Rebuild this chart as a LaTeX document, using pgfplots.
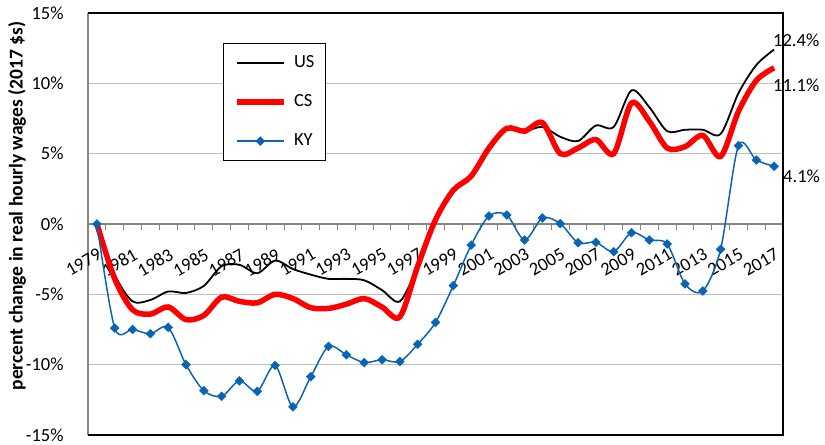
\documentclass[border=0pt]{standalone}
\usepackage{pgfplots}
\pgfplotsset{compat=1.18}
\usepackage{fontspec}
\setmainfont{Carlito}
\usetikzlibrary{calc}
\definecolor{kyblue}{RGB}{10,100,180}
\definecolor{gridgray}{RGB}{191,191,191}
\definecolor{axgray}{RGB}{134,134,134}
\newcommand{\fs}{\fontsize{18.5}{20}\selectfont}
\begin{document}
\begin{tikzpicture}
\begin{axis}[
  scale only axis, width=695pt, height=422pt,
  xmin=1978.5, xmax=2017.5, ymin=-15, ymax=15,
  clip mode=individual,
  axis x line*=middle, axis y line*=left,
  x axis line style={axgray, line width=1.2pt, -},
  y axis line style={axgray, line width=1.2pt, -},
  /pgf/number format/assume math mode=true,
  /pgf/number format/1000 sep={},
  xtick={1979,1981,...,2017},
  major x tick style={draw=none},
  minor xtick={1978.5,1979.5,...,2017.5},
  minor x tick style={axgray, line width=1pt},
  minor tick length=6pt,
  tick align=outside,
  xticklabel style={font=\fs, inner sep=0pt, yshift=-19pt, rotate=30, anchor=north east},
  ytick={-15,-10,-5,0,5,10,15},
  yticklabels={-15\%,-10\%,-5\%,0\%,5\%,10\%,15\%},
  major y tick style={draw=none},
  yticklabel style={font=\fs, inner sep=0pt, xshift=-20pt, anchor=east},
  ymajorgrids, grid style={gridgray, line width=1.3pt},
  ylabel={percent change in real hourly wages (2017 \$s)},
  ylabel style={font=\bfseries\fontsize{19.5}{20}\selectfont, at={(axis description cs:-0.102,0.543)}, anchor=center},
  legend style={at={(rel axis cs:0.1942,0.9289)}, anchor=north west, draw=black, line width=1.2pt,
    inner xsep=11pt, inner ysep=12pt, row sep=24pt, column sep=8pt, font=\fs,
    nodes={inner sep=0pt, text height=12pt, text depth=3pt}},
  legend cell align=left,
  legend image code/.code={\draw[mark repeat=2,mark phase=2,#1] plot coordinates {(0pt,0pt) (23pt,0pt) (46pt,0pt)};},
]
\draw[black, line width=1.2pt] (rel axis cs:0,0) -- (rel axis cs:1,0) -- (rel axis cs:1,1) -- (rel axis cs:0,1);
\coordinate (sw) at (rel axis cs:0,0);
\coordinate (ne) at (rel axis cs:1,1);

\addplot[black, line width=1.8pt, smooth, tension=0.5] coordinates {
(1979,0) (1980,-3.6) (1981,-5.5) (1982,-5.4) (1983,-4.8) (1984,-4.9) (1985,-4.4) (1986,-3.0)
(1987,-2.9) (1988,-3.5) (1989,-2.6) (1990,-3.2) (1991,-3.6) (1992,-3.9) (1993,-3.9) (1994,-4.0)
(1995,-4.7) (1996,-5.5) (1997,-3.0) (1998,0.3) (1999,2.5) (2000,3.3) (2001,5.2) (2002,6.8)
(2003,6.6) (2004,6.9) (2005,6.2) (2006,5.9) (2007,7.0) (2008,6.9) (2009,9.5) (2010,8.3)
(2011,6.6) (2012,6.7) (2013,6.7) (2014,6.4) (2015,9.3) (2016,11.3) (2017,12.4)};
\addlegendentry{US}
\addplot[red, line width=5.5pt, smooth, tension=0.5] coordinates {
(1979,0) (1980,-3.9) (1981,-6.1) (1982,-6.4) (1983,-5.9) (1984,-6.8) (1985,-6.5) (1986,-5.2)
(1987,-5.5) (1988,-5.6) (1989,-5.0) (1990,-5.3) (1991,-5.95) (1992,-6.0) (1993,-5.7) (1994,-5.3)
(1995,-5.9) (1996,-6.6) (1997,-3.0) (1998,0.3) (1999,2.4) (2000,3.4) (2001,5.4) (2002,6.8)
(2003,6.6) (2004,7.2) (2005,5.0) (2006,5.4) (2007,6.0) (2008,5.0) (2009,8.6) (2010,7.3)
(2011,5.4) (2012,5.5) (2013,6.3) (2014,4.8) (2015,8.0) (2016,10.2) (2017,11.1)};
\addlegendentry{CS}
\addplot[kyblue, line width=1.5pt, smooth, tension=0.5, mark=square*, mark size=3.1pt, mark options={solid, rotate=45, line width=0.5pt}] coordinates {
(1979,0) (1980,-7.4) (1981,-7.5) (1982,-7.8) (1983,-7.35) (1984,-10.0) (1985,-11.85) (1986,-12.25)
(1987,-11.15) (1988,-11.9) (1989,-10.05) (1990,-13.0) (1991,-10.85) (1992,-8.7) (1993,-9.3) (1994,-9.85)
(1995,-9.65) (1996,-9.78) (1997,-8.55) (1998,-7.0) (1999,-4.38) (2000,-1.5) (2001,0.57) (2002,0.64)
(2003,-1.14) (2004,0.43) (2005,0.03) (2006,-1.33) (2007,-1.3) (2008,-1.97) (2009,-0.62) (2010,-1.14)
(2011,-1.42) (2012,-4.26) (2013,-4.76) (2014,-1.8) (2015,5.57) (2016,4.55) (2017,4.1)};
\addlegendentry{KY}

\node[anchor=west, inner sep=0pt, font=\fs] at (axis cs:2016.94,13.08) {12.4\%};
\node[anchor=west, inner sep=0pt, font=\fs] at (axis cs:2016.94,9.88) {11.1\%};
\node[anchor=west, inner sep=0pt, font=\fs] at (axis cs:2017.5,3.41) {4.1\%};
\end{axis}
\pgfresetboundingbox
\path[use as bounding box] ($(sw)+(-88pt,-9pt)$) rectangle ($(ne)+(42pt,13pt)$);
\end{tikzpicture}
\end{document}
